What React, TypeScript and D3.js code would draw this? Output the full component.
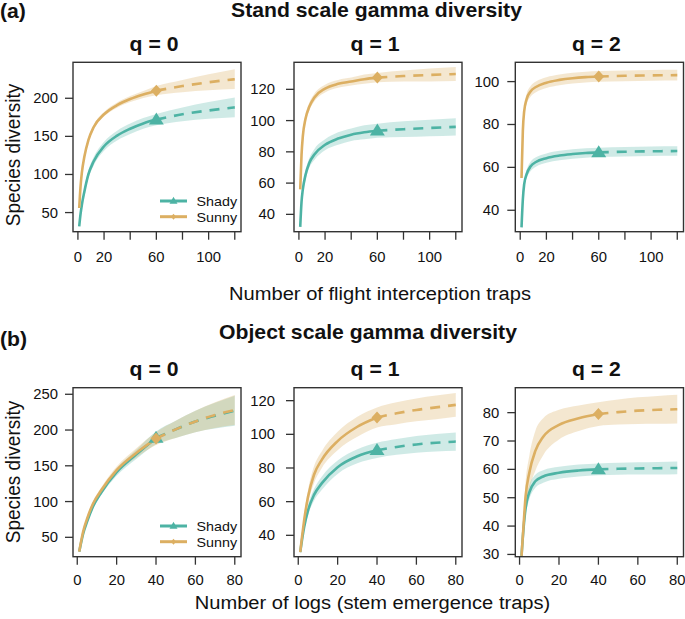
import React from "react";
import * as d3 from "d3";

// ---------- data ----------
const topX = [1, 2, 3, 5, 8, 12, 20, 30, 40, 50, 60, 80, 100, 120];
const topRef = 60;
const botX = [1, 2, 3, 5, 8, 12, 20, 30, 40, 50, 60, 70, 80];
const botRef = 40;

// Stand scale (a)
const a0SunnyEst = [56, 84, 102, 124, 145, 162, 179, 191, 199, 205, 210, 216, 221, 225];
const a0SunnyLo = [55, 81, 99, 121, 142, 159, 176, 187.5, 195, 200.5, 204, 208, 210.5, 212];
const a0SunnyHi = [57, 87, 105, 127, 148, 165, 182, 194.5, 203, 209.5, 216, 224, 231.5, 238];
const a0ShadyEst = [32, 48, 60, 78, 100, 117, 137, 151, 160, 167, 172, 179, 184, 188];
const a0ShadyLo = [31, 46, 57, 74, 95, 111.5, 131, 144.5, 153, 160, 164.5, 170, 173, 175];
const a0ShadyHi = [33, 50, 63, 82, 105, 122.5, 143, 157.5, 167, 174, 179.5, 188, 195, 201];

const a1SunnyEst = [56, 78, 90, 101, 109, 115, 120.5, 123.5, 125, 126.5, 127.5, 128.5, 129.2, 129.8];
const a1SunnyLo = [55, 76, 87.5, 98.5, 106.5, 112.5, 118, 121, 122.5, 123.5, 124.5, 125, 125, 125.3];
const a1SunnyHi = [57, 80, 92.5, 103.5, 111.5, 117.5, 123, 126, 127.5, 129.5, 130.5, 132, 133.4, 134.3];
const a1ShadyEst = [32, 48, 56, 65, 73, 78.5, 84.5, 88.5, 91, 92.5, 93.5, 94.5, 95.3, 96];
const a1ShadyLo = [31, 46, 53.5, 62, 70, 75, 81, 84.5, 87, 88, 89, 89.5, 90, 90.5];
const a1ShadyHi = [33, 50, 58.5, 68, 76, 82, 88, 92.5, 95, 97, 98, 99.5, 100.6, 101.5];

const a2SunnyEst = [55, 77, 86, 92, 95.5, 97.5, 99.5, 100.8, 101.6, 102.1, 102.4, 102.7, 102.9, 103];
const a2SunnyLo = [54, 75, 83.5, 89.5, 93, 95, 97, 98.3, 99.1, 99.6, 99.9, 100.2, 100.4, 100.5];
const a2SunnyHi = [56, 79, 88.5, 94.5, 98, 100, 102, 103.3, 104.1, 104.6, 104.9, 105.2, 105.4, 105.5];
const a2ShadyEst = [32, 45, 52, 57, 60.5, 62.5, 64.3, 65.5, 66.2, 66.7, 67, 67.3, 67.5, 67.6];
const a2ShadyLo = [31, 43.5, 50, 55, 58.3, 60.3, 62.1, 63.3, 64, 64.5, 64.8, 65.1, 65.3, 65.4];
const a2ShadyHi = [33, 46.5, 54, 59, 62.7, 64.7, 66.5, 67.7, 68.4, 68.9, 69.2, 69.5, 69.7, 69.8];

// Object scale (b)
const b0SunnyEst = [30, 45, 58, 76, 97, 115, 144, 168, 188, 201, 212, 221, 228];
const b0SunnyLo = [29, 43, 55.5, 73, 93.5, 111, 139, 161.5, 179, 189, 197, 203, 207];
const b0SunnyHi = [31, 47, 60.5, 79, 100.5, 119, 149, 174.5, 197, 213, 227, 239, 249];
const b0ShadyEst = [30, 43, 55, 72, 93, 112, 141, 166, 189, 201, 212, 220, 227];
const b0ShadyLo = [29, 41, 52.5, 69, 89.5, 108, 136, 159.5, 180, 189, 197, 202, 206];
const b0ShadyHi = [31, 45, 57.5, 75, 96.5, 116, 146, 172.5, 198, 213, 227, 238, 248];

const b1SunnyEst = [30, 40, 49, 63, 76, 85, 96, 104.5, 110, 112.5, 114.5, 116, 117.5];
const b1SunnyLo = [29, 37.5, 45.5, 59, 71, 80, 90.5, 98.5, 104, 106, 107.7, 109, 110.5];
const b1SunnyHi = [31, 42.5, 52.5, 67, 81, 90, 101.5, 110.5, 116, 119, 121.3, 123, 124.5];
const b1ShadyEst = [30, 38, 45, 55, 64, 71, 80.5, 87, 90.5, 92.5, 94, 95, 95.7];
const b1ShadyLo = [29, 36, 42.5, 52, 60.5, 67, 76.5, 82.8, 86, 87.8, 89, 89.8, 90.3];
const b1ShadyHi = [31, 40, 47.5, 58, 67.5, 75, 84.5, 91.2, 95, 97.2, 99, 100.2, 101.1];

const b2SunnyEst = [29.5, 40, 50, 59, 66.5, 71.5, 75.7, 78, 79.5, 80.2, 80.7, 81, 81.2];
const b2SunnyLo = [29, 36, 45, 53, 59.5, 65, 70.5, 73.5, 75.3, 75.8, 76, 76.1, 76.2];
const b2SunnyHi = [30, 44, 55, 65, 73.5, 78, 81, 82.5, 83.7, 84.6, 85.4, 85.9, 86.3];
const b2ShadyEst = [29.5, 39, 46, 52, 55.8, 57.5, 58.8, 59.6, 60, 60.2, 60.3, 60.4, 60.5];
const b2ShadyLo = [29, 37, 43.5, 49.5, 53.5, 55.3, 56.7, 57.5, 57.9, 58.1, 58.2, 58.2, 58.3];
const b2ShadyHi = [30, 41, 48.5, 54.5, 58.1, 59.7, 60.9, 61.7, 62.1, 62.3, 62.5, 62.6, 62.8];

// axes
const topXTicks = [0, 20, 40, 60, 80, 100, 120];
const topXLabels = [0, 20, 60, 100];
const botXTicks = [0, 20, 40, 60, 80];
const botXLabels = [0, 20, 40, 60, 80];
const a0YTicks = [50, 100, 150, 200];
const a1YTicks = [40, 60, 80, 100, 120];
const a2YTicks = [40, 60, 80, 100];
const b0YTicks = [50, 100, 150, 200, 250];
const b1YTicks = [40, 60, 80, 100, 120];
const b2YTicks = [30, 40, 50, 60, 70, 80];
const qLabels = ["q = 0", "q = 1", "q = 2"];
const seriesNames = ["Shady", "Sunny"];

// ---------- styling / layout ----------
const SHADY = "#4DB3A4";
const SUNNY = "#DCAF62";
const AX = "#333333";
const FONT = "'Liberation Sans', Arial, Helvetica, sans-serif";
const SX = 1.06;
const colX: [number, number][] = [
  [73, 241],
  [294, 462],
  [515.3, 683.5],
];
const colLabelGap = [15, 19, 16];
const rowY: [number, number][] = [
  [62.3, 231.7],
  [387.7, 556.7],
];

type Series = { est: number[]; lo: number[]; hi: number[] };
type Panel = {
  xs: number[];
  ref: number;
  xDom: [number, number];
  yDom: [number, number];
  xTicks: number[];
  xLabels: number[];
  yTicks: number[];
  shady: Series;
  sunny: Series;
};

const panels: Panel[][] = [
  [
    { xs: topX, ref: topRef, xDom: [-3.76, 124.76], yDom: [24.9, 247.2], xTicks: topXTicks, xLabels: topXLabels, yTicks: a0YTicks,
      shady: { est: a0ShadyEst, lo: a0ShadyLo, hi: a0ShadyHi }, sunny: { est: a0SunnyEst, lo: a0SunnyLo, hi: a0SunnyHi } },
    { xs: topX, ref: topRef, xDom: [-3.76, 124.76], yDom: [28.9, 137.3], xTicks: topXTicks, xLabels: topXLabels, yTicks: a1YTicks,
      shady: { est: a1ShadyEst, lo: a1ShadyLo, hi: a1ShadyHi }, sunny: { est: a1SunnyEst, lo: a1SunnyLo, hi: a1SunnyHi } },
    { xs: topX, ref: topRef, xDom: [-3.76, 124.76], yDom: [30, 109], xTicks: topXTicks, xLabels: topXLabels, yTicks: a2YTicks,
      shady: { est: a2ShadyEst, lo: a2ShadyLo, hi: a2ShadyHi }, sunny: { est: a2SunnyEst, lo: a2SunnyLo, hi: a2SunnyHi } },
  ],
  [
    { xs: botX, ref: botRef, xDom: [-2.16, 83.16], yDom: [22.9, 259.2], xTicks: botXTicks, xLabels: botXLabels, yTicks: b0YTicks,
      shady: { est: b0ShadyEst, lo: b0ShadyLo, hi: b0ShadyHi }, sunny: { est: b0SunnyEst, lo: b0SunnyLo, hi: b0SunnyHi } },
    { xs: botX, ref: botRef, xDom: [-2.16, 83.16], yDom: [27.3, 127.7], xTicks: botXTicks, xLabels: botXLabels, yTicks: b1YTicks,
      shady: { est: b1ShadyEst, lo: b1ShadyLo, hi: b1ShadyHi }, sunny: { est: b1SunnyEst, lo: b1SunnyLo, hi: b1SunnyHi } },
    { xs: botX, ref: botRef, xDom: [-2.16, 83.16], yDom: [29.2, 88.8], xTicks: botXTicks, xLabels: botXLabels, yTicks: b2YTicks,
      shady: { est: b2ShadyEst, lo: b2ShadyLo, hi: b2ShadyHi }, sunny: { est: b2SunnyEst, lo: b2SunnyLo, hi: b2SunnyHi } },
  ],
];

const T = ({ x, y, size, bold, anchor = "middle", rotate = 0, children }: any) => (
  <text
    transform={`translate(${x},${y}) scale(${SX},1)${rotate ? ` rotate(${rotate})` : ""}`}
    fontSize={size}
    fontWeight={bold ? "bold" : "normal"}
    fontFamily={FONT}
    textAnchor={anchor}
    fill="#111"
  >
    {children}
  </text>
);

const triPath = (w: number, h: number) => `M0,${-h * 0.6}L${w / 2},${h * 0.4}L${-w / 2},${h * 0.4}Z`;
const diaPath = (w: number, h: number) => `M0,${-h / 2}L${w / 2},0L0,${h / 2}L${-w / 2},0Z`;

function PanelView({ p, col, row }: { p: Panel; col: number; row: number }) {
  const [x0, x1] = colX[col];
  const [y0, y1] = rowY[row];
  const xs = d3.scaleLinear().domain(p.xDom).range([x0, x1]);
  const ys = d3.scaleLinear().domain(p.yDom).range([y1, y0]);
  const pts = (s: Series) => p.xs.map((x, i) => ({ x, e: s.est[i], lo: s.lo[i], hi: s.hi[i] }));
  const area = d3
    .area<any>()
    .x((d) => xs(d.x))
    .y0((d) => ys(d.lo))
    .y1((d) => ys(d.hi))
    .curve(d3.curveMonotoneX);
  const line = d3
    .line<any>()
    .x((d) => xs(d.x))
    .y((d) => ys(d.e))
    .curve(d3.curveMonotoneX);
  const clipId = `clip-${row}-${col}`;
  const refIdx = p.xs.indexOf(p.ref);
  const series = [
    { s: p.shady, c: SHADY, op: 0.27, kind: "tri" },
    { s: p.sunny, c: SUNNY, op: 0.3, kind: "dia" },
  ];
  return (
    <g>
      <defs>
        <clipPath id={clipId}>
          <rect x={x0} y={y0} width={x1 - x0} height={y1 - y0} />
        </clipPath>
      </defs>
      <g clipPath={`url(#${clipId})`}>
        {series.map((sr, i) => (
          <path key={"a" + i} d={area(pts(sr.s)) || ""} fill={sr.c} fillOpacity={sr.op} stroke="none" />
        ))}
        {series.map((sr, i) => {
          const all = pts(sr.s);
          const solid = all.filter((d) => d.x <= p.ref);
          const dashed = all.filter((d) => d.x >= p.ref);
          return (
            <g key={"l" + i}>
              <path d={line(solid) || ""} fill="none" stroke={sr.c} strokeWidth={2.6} />
              <path d={line(dashed) || ""} fill="none" stroke={sr.c} strokeWidth={2.6} strokeDasharray="10,8" />
            </g>
          );
        })}
        {series.map((sr, i) => {
          const cx = xs(p.ref);
          const cy = ys(sr.s.est[refIdx]);
          return (
            <path
              key={"m" + i}
              transform={`translate(${cx},${cy})`}
              d={sr.kind === "tri" ? triPath(15, 12) : diaPath(11, 12)}
              fill={sr.c}
            />
          );
        })}
      </g>
      <rect x={x0} y={y0} width={x1 - x0} height={y1 - y0} fill="none" stroke={AX} strokeWidth={1.4} />
      {/* x axis */}
      {p.xTicks.map((t) => (
        <line key={"xt" + t} x1={xs(t)} x2={xs(t)} y1={y1} y2={y1 + 8} stroke={AX} strokeWidth={1.3} />
      ))}
      {p.xLabels.map((t) => (
        <T key={"xl" + t} x={xs(t)} y={y1 + (row === 0 ? 30 : 28)} size={14}>
          {t}
        </T>
      ))}
      {/* y axis */}
      {p.yTicks.map((t) => (
        <line key={"yt" + t} x1={x0 - 8} x2={x0} y1={ys(t)} y2={ys(t)} stroke={AX} strokeWidth={1.3} />
      ))}
      {p.yTicks.map((t) => (
        <T key={"yl" + t} x={x0 - colLabelGap[col]} y={ys(t) + 5} size={14} anchor="end">
          {t}
        </T>
      ))}
      <T x={(x0 + x1) / 2 - 3} y={row === 0 ? 51 : 376} size={20} bold>
        {qLabels[col]}
      </T>
      {col === 0 && (
        <g>
          {series.map((sr, i) => {
            const ly = y1 - 30.7 + i * 15.7;
            return (
              <g key={"lg" + i}>
                <line x1={x1 - 81} x2={x1 - 54} y1={ly} y2={ly} stroke={sr.c} strokeWidth={3} />
                <path
                  transform={`translate(${x1 - 67.5},${ly})`}
                  d={sr.kind === "tri" ? triPath(8, 7) : diaPath(5, 6)}
                  fill={sr.c}
                />
                <T x={x1 - 44.5} y={ly + 5} size={13.5} anchor="start">
                  {seriesNames[i]}
                </T>
              </g>
            );
          })}
        </g>
      )}
    </g>
  );
}

export default function App() {
  return (
    <svg width={685} height={619} style={{ position: "absolute", left: 0, top: 0, background: "#fff" }}>
      <rect x={0} y={0} width={685} height={619} fill="#fff" />
      <T x={0} y={17.5} size={20} bold anchor="start">(a)</T>
      <T x={376.5} y={17} size={20} bold>Stand scale gamma diversity</T>
      <T x={0} y={345.5} size={20} bold anchor="start">(b)</T>
      <T x={368} y={338.5} size={20} bold>Object scale gamma diversity</T>
      <T x={380} y={300} size={19}>Number of flight interception traps</T>
      <T x={372.5} y={608.5} size={19}>Number of logs (stem emergence traps)</T>
      <T x={20} y={155} size={19} rotate={-90}>Species diversity</T>
      <T x={20} y={472} size={19} rotate={-90}>Species diversity</T>
      {panels.map((row, ri) =>
        row.map((p, ci) => <PanelView key={`${ri}-${ci}`} p={p} col={ci} row={ri} />)
      )}
    </svg>
  );
}
